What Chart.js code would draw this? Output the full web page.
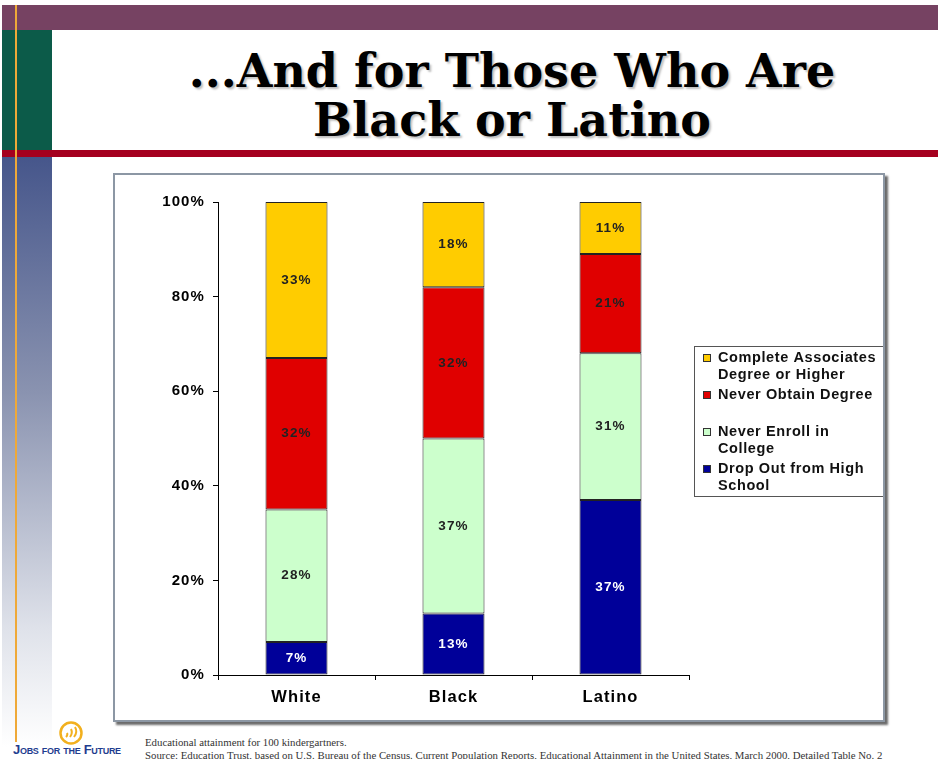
<!DOCTYPE html>
<html>
<head>
<meta charset="utf-8">
<script src="https://cdn.jsdelivr.net/npm/chart.js@4"></script>
<style>
  html, body { margin: 0; padding: 0; background: #fff; }
  #page { position: relative; width: 938px; height: 759px; overflow: hidden; background: #fff; }
  .deco { position: absolute; }
  #title {
    position: absolute; left: 60px; width: 904px; top: 47px; text-align: center;
    font-family: "DejaVu Serif", serif; font-weight: bold; font-size: 46px; line-height: 49px;
    color: #000; text-shadow: 2px 2px 2px rgba(0,0,0,0.25);
  }
  #box {
    position: absolute; left: 113px; top: 173px; width: 768px; height: 545px;
    border: 2px solid #8c97a4; box-shadow: 3px 3px 2px #6b6b6b; background: #fff;
  }
  #foot1, #foot2 { position: absolute; left: 145px; font-family: "Liberation Serif", serif; font-size: 10.8px; color: #333; white-space: nowrap; }
  #foot1 { top: 736px; }
  #foot2 { top: 749px; }
  #jff { position: absolute; left: 13px; top: 742px; font-family: "Liberation Sans", Arial, sans-serif; font-weight: bold; color: #1f3d8f; font-size: 13px; font-variant: small-caps; letter-spacing: -0.3px; white-space: nowrap; }
</style>
</head>
<body>
<div id="page">
  <div class="deco" style="left:2px;top:5px;width:936px;height:25px;background:#764262"></div>
  <div class="deco" style="left:2px;top:30px;width:50px;height:121px;background:#0c5b49"></div>
  <div class="deco" style="left:2px;top:150px;width:936px;height:7px;background:#a5001f"></div>
  <div class="deco" style="left:2px;top:157px;width:50px;height:590px;background:linear-gradient(#46568b,#8a93b0 40%,#dfe2ea 80%,#fff)"></div>
  <div class="deco" style="left:15px;top:5px;width:2px;height:737px;background:#efa938"></div>
  <div id="title">...And for Those Who Are<br>Black or Latino</div>
  <div id="box"><canvas id="chart" width="768" height="545"></canvas></div>
  <svg class="deco" style="left:58px;top:721px" width="26" height="24" viewBox="0 0 26 24">
    <circle cx="13" cy="12" r="10.5" fill="none" stroke="#f2b01e" stroke-width="2.5"/>
    <path d="M8 16 Q10 14 9 12 M12 16 Q15 12 13 8 M16 16 Q20 11 17 6" fill="none" stroke="#f2b01e" stroke-width="2"/>
  </svg>
  <div id="jff">Jobs for the Future</div>
  <div id="foot1">Educational attainment for 100 kindergartners.</div>
  <div id="foot2">Source: Education Trust, based on U.S. Bureau of the Census. Current Population Reports, Educational Attainment in the United States, March 2000, Detailed Table No. 2</div>
</div>
<script>
// values, bottom segment first
const categories = ['White', 'Black', 'Latino'];
const dropOut = [7, 13, 37];
const neverEnroll = [28, 37, 31];
const neverObtain = [32, 32, 21];
const completeDegree = [33, 18, 11];

const seriesLines = [
    ['Drop Out from High', 'School'],
    ['Never Enroll in', 'College'],
    ['Never Obtain Degree', ''],
    ['Complete Associates', 'Degree or Higher']
];
const seriesColors = ['#000099', '#ccffcc', '#e00000', '#ffcc00'];
const labelColors = ['#ffffff', '#222222', '#222222', '#222222'];
const seriesData = [dropOut, neverEnroll, neverObtain, completeDegree];

const FONT = '"Liberation Sans", Arial, sans-serif';

// the slide's Arial is a bit wider, spread letters a little
const spacing = {
    id: 'spacing',
    beforeLayout(chart) { chart.ctx.letterSpacing = '1.1px'; },
    beforeDraw(chart) { chart.ctx.letterSpacing = '1.1px'; }
};

const valueLabels = {
    id: 'valueLabels',
    afterDatasetsDraw(chart) {
        const ctx = chart.ctx;
        ctx.save();
        ctx.font = 'bold 13.5px ' + FONT;
        ctx.textAlign = 'center';
        ctx.textBaseline = 'middle';
        chart.data.datasets.forEach((ds, i) => {
            const meta = chart.getDatasetMeta(i);
            meta.data.forEach((bar, j) => {
                ctx.fillStyle = labelColors[i];
                ctx.fillText(ds.data[j] + '%', bar.x, (bar.y + bar.base) / 2);
            });
        });
        ctx.restore();
    }
};

// legend box at the right, drawn top item first like the slide
const boxLegend = {
    id: 'boxLegend',
    afterDraw(chart) {
        const ctx = chart.ctx;
        const x = 579, y = 171, w = 189, h = 150;
        ctx.save();
        ctx.strokeStyle = '#555';
        ctx.lineWidth = 1;
        ctx.strokeRect(x + 0.5, y + 0.5, w, h);
        ctx.font = 'bold 14.5px ' + FONT;
        ctx.letterSpacing = '0.6px';
        ctx.textBaseline = 'middle';
        ctx.textAlign = 'left';
        const n = chart.data.datasets.length;
        for (let k = 0; k < n; k++) {
            const i = n - 1 - k;
            const cy = y + 12 + k * 37;
            ctx.fillStyle = seriesColors[i];
            ctx.fillRect(x + 9, cy - 4, 8, 8);
            ctx.strokeStyle = '#333';
            ctx.strokeRect(x + 9.5, cy - 3.5, 7, 7);
            ctx.fillStyle = '#111';
            seriesLines[i].forEach((line, l) => ctx.fillText(line, x + 24, cy + l * 17));
        }
        ctx.restore();
    }
};

new Chart(document.getElementById('chart'), {
    type: 'bar',
    data: {
        labels: categories,
        datasets: seriesData.map((d, i) => ({
            label: seriesLines[i].join(' ').trim(),
            data: d,
            backgroundColor: seriesColors[i],
            borderColor: '#222',
            borderWidth: 1,
            borderSkipped: false,
            barPercentage: 0.395,
            categoryPercentage: 1
        }))
    },
    options: {
        responsive: false,
        animation: false,
        layout: {padding: {top: 27, right: 194, left: 0, bottom: 0}},
        plugins: {legend: {display: false}, tooltip: {enabled: false}},
        scales: {
            x: {
                stacked: true,
                grid: {drawOnChartArea: false, tickLength: 5, color: '#000', offset: true},
                border: {color: '#000', width: 1},
                ticks: {color: '#000', font: {family: FONT, size: 16.5, weight: 'bold'}, padding: 8},
                afterFit(scale) { scale.height = 45; }
            },
            y: {
                stacked: true,
                min: 0,
                max: 100,
                grid: {drawOnChartArea: false, tickLength: 5, color: '#000'},
                border: {color: '#000', width: 1},
                ticks: {
                    stepSize: 20,
                    color: '#000',
                    padding: 8,
                    font: {family: FONT, size: 15, weight: 'bold'},
                    callback: v => v + '%'
                },
                afterFit(scale) { scale.width = 103; }
            }
        }
    },
    plugins: [spacing, valueLabels, boxLegend]
});
</script>
</body>
</html>
